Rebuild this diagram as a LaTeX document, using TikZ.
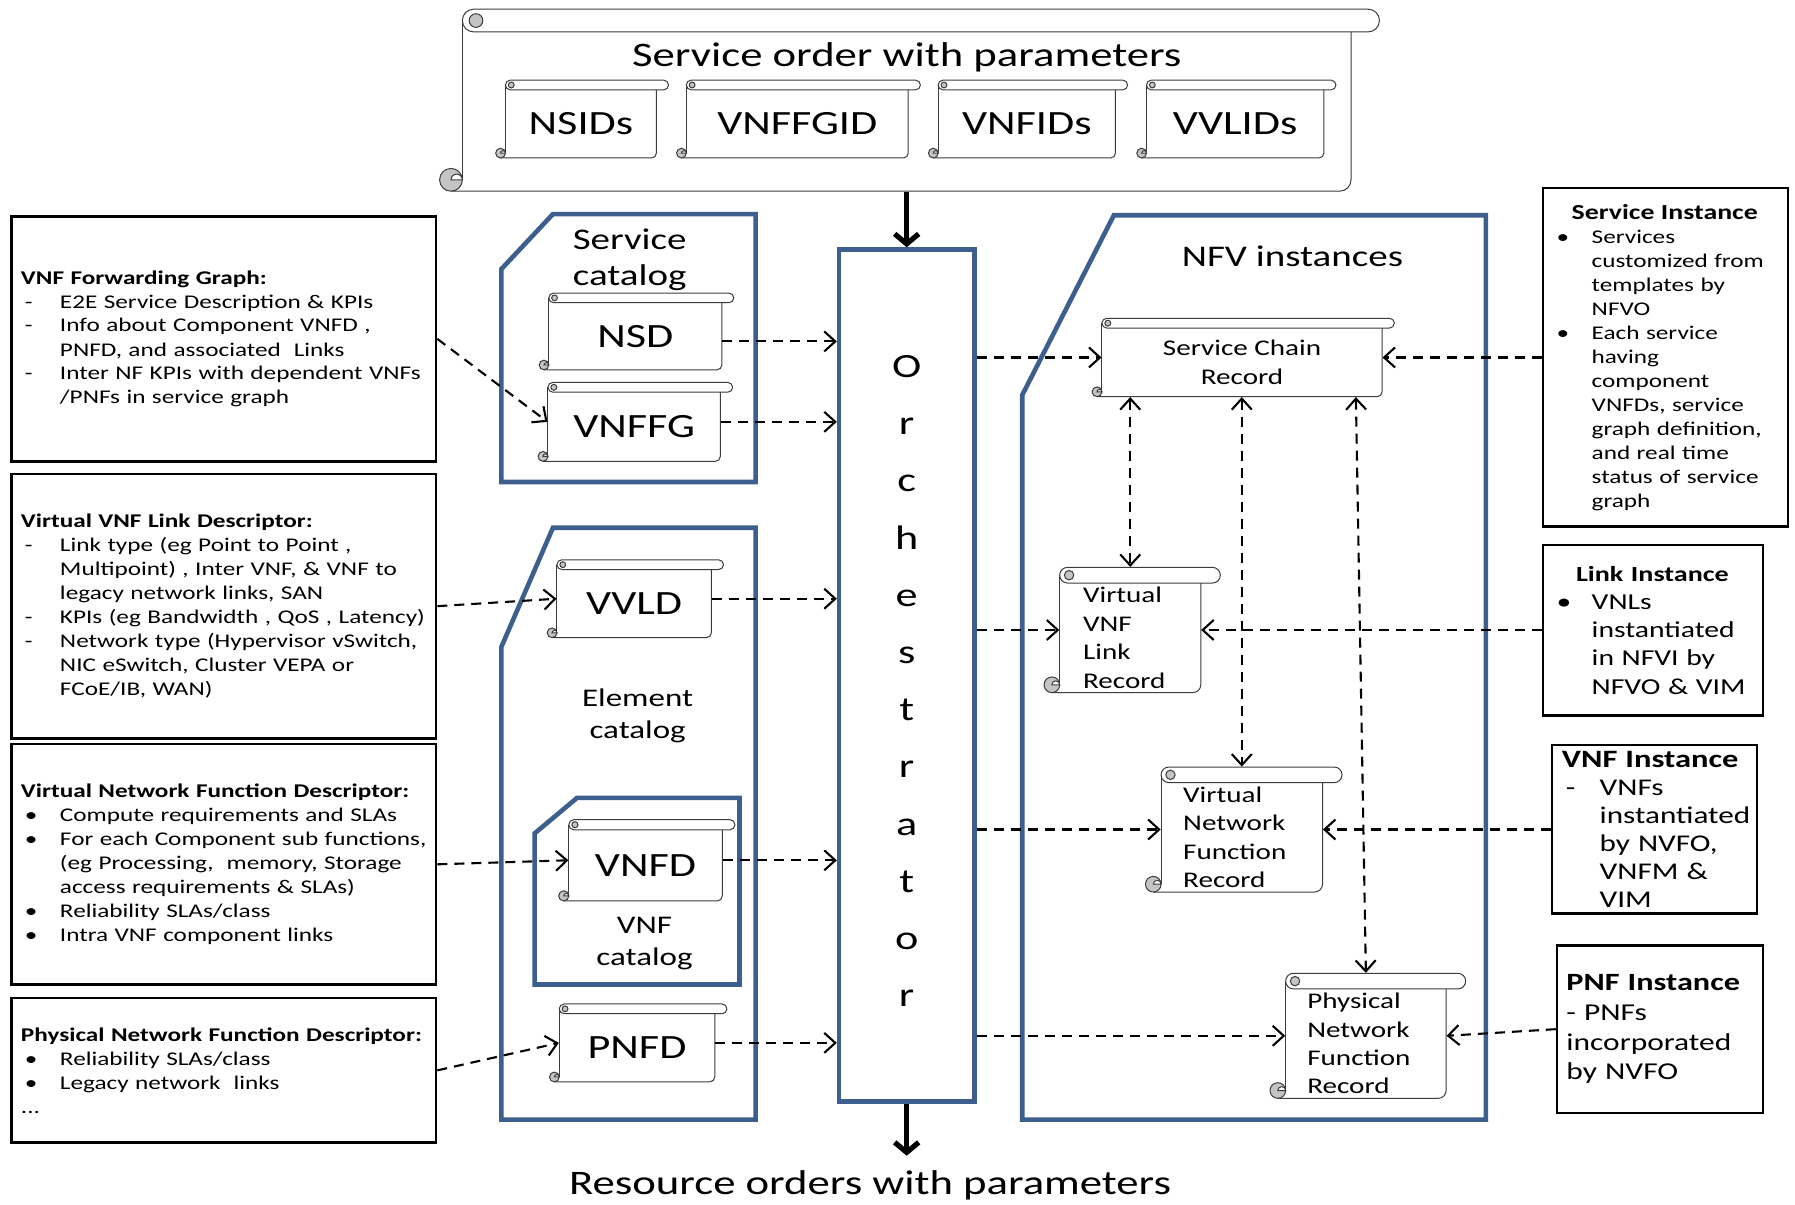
\documentclass[tikz,border=0pt]{standalone}
\usepackage{fontspec}
\setmainfont{Carlito}[FakeStretch=1.3]
\usetikzlibrary{arrows.meta,fit,calc}
\hyphenpenalty=10000
\exhyphenpenalty=10000

\definecolor{catblue}{RGB}{60,95,142}
\definecolor{curlgray}{RGB}{196,196,196}
\definecolor{scrollink}{RGB}{60,60,60}

\newcommand{\fsz}[2]{\fontsize{#1}{#2}\selectfont}
% list lines with a hanging marker
\newcommand{\itemline}[3][19.5pt]{\makebox[#1][l]{\hspace{2pt}#2}#3}
\newcommand{\contline}[2][19.5pt]{\hspace*{#1}#2}

\tikzset{
  scrollline/.style={draw=scrollink, line width=0.5pt},
  bluebox/.style={draw=catblue, line width=2.3pt},
  descbox/.style={draw=black, line width=1.15pt, inner sep=0pt},
  desctext/.style={anchor=west, inner sep=0pt, align=left, text width=215pt, font=\fsz{9.7}{12}},
  boxtext/.style={anchor=west, inner sep=0pt, align=left},
  conn/.style={line width=1.05pt, dash pattern=on 5pt off 3.5pt, -{Straight Barb[length=5.5pt,width=10pt]}},
  biconn/.style={conn, {Straight Barb[length=5.5pt,width=10pt]}-{Straight Barb[length=5.5pt,width=10pt]}},
  bigarrow/.style={line width=2.6pt, -{Straight Barb[length=5pt,width=12pt]}},
  bigtext/.style={font=\fsz{17.2}{20}, inner sep=0pt},
  idtext/.style={font=\fsz{17}{20}, inner sep=0pt},
  rectext/.style={font=\fsz{11.2}{14.2}, align=left, inner sep=0pt},
  cattext/.style={align=center, inner sep=0pt},
}

% scroll: name, left, top, right, bottom, label style, label
\newcommand{\scrollbox}[7]{%
  \pgfmathsetmacro{\sch}{min(#4-#2,#5-#3)/8}%
  \pgfmathsetmacro{\shc}{\sch/2}%
  \pgfmathsetmacro{\sbl}{#2+\sch}%
  \pgfmathsetmacro{\sbr}{#4-1.25*\sch}%
  \pgfmathsetlengthmacro{\srad}{\shc*0.5724pt}%
  \pgfmathsetlengthmacro{\sradh}{\shc*0.5724pt/2}%
  \pgfmathsetlengthmacro{\srads}{\sch*0.5724pt*0.3}%
  \fill[white] (\sbl,#3+\shc) rectangle (\sbr,#5);
  \draw[scrollline] (\sbl,#3+\shc) -- (\sbl,#5-\shc);
  \draw[scrollline, rounded corners=\srad] (#2+\shc,#5) -- (\sbr,#5) -- (\sbr,#3+\sch);
  \filldraw[scrollline, fill=curlgray] (#2+\shc,#5-\shc) circle[radius=\srad];
  \filldraw[scrollline, fill=white] (\sbl,#5-\shc) arc[start angle=0, end angle=180, radius=\sradh] -- cycle;
  \filldraw[scrollline, fill=white, rounded corners=\srad] (\sbl,#3) rectangle (#4,#3+\sch);
  \filldraw[scrollline, fill=curlgray] (\sbl+0.6*\sch,#3+\shc) circle[radius=\srads];
  \node[inner sep=0pt, fit={(\sbl,#3) (\sbr,#5)}] (#1) {};
  \node[#6] (#1-label) at ({(\sbl+\sbr)/2},{(#3+\sch+#5)/2}) {#7};
}

\begin{document}
\begin{tikzpicture}[x=0.5724pt, y=-0.5724pt]
\useasboundingbox (0,0) rectangle (1568,1052);
\fill[white] (0,0) rectangle (1568,1052);

% ---------- descriptor boxes (left) ----------
\node[descbox, fit={(10,189) (381,403)}] (fgbox) {};
\node[desctext] (fgtext) at ([xshift=5.15pt]fgbox.west) {%
\textbf{VNF Forwarding Graph:}\\
\itemline{-}{E2E Service Description \& KPIs}\\
\itemline{-}{Info about Component VNFD ,}\\
\contline{PNFD, and associated\ \ Links}\\
\itemline{-}{Inter NF KPIs with dependent VNFs}\\
\contline{/PNFs in service graph}};

\node[descbox, fit={(10,414) (381,645)}] (vlbox) {};
\node[desctext] (vltext) at ([xshift=5.15pt]vlbox.west) {%
\textbf{Virtual VNF Link Descriptor:}\\
\itemline{-}{Link type (eg Point to Point ,}\\
\contline{Multipoint) , Inter VNF, \& VNF to}\\
\contline{legacy network links, SAN}\\
\itemline{-}{KPIs (eg Bandwidth , QoS , Latency)}\\
\itemline{-}{Network type (Hypervisor vSwitch,}\\
\contline{NIC eSwitch, Cluster VEPA or}\\
\contline{FCoE/IB, WAN)}};

\node[descbox, fit={(10,650) (381,860)}] (vnfdbox) {};
\node[desctext] (vnfdtext) at ([xshift=5.15pt]vnfdbox.west) {%
\textbf{Virtual Network Function Descriptor:}\\
\itemline{\textbullet}{Compute requirements and SLAs}\\
\itemline{\textbullet}{For each Component sub functions,}\\
\contline{(eg Processing,\ \ memory, Storage}\\
\contline{access requirements \& SLAs)}\\
\itemline{\textbullet}{Reliability SLAs/class}\\
\itemline{\textbullet}{Intra VNF component links}};

\node[descbox, fit={(10,872) (381,998)}] (pnfdbox) {};
\node[desctext] (pnfdtext) at ([xshift=5.15pt]pnfdbox.west) {%
\textbf{Physical Network Function Descriptor:}\\
\itemline{\textbullet}{Reliability SLAs/class}\\
\itemline{\textbullet}{Legacy network\ \ links}\\
...};

% ---------- instance boxes (right) ----------
\node[descbox, fit={(1348,164) (1562,460)}] (sibox) {};
\node[boxtext, text width=112pt, font=\fsz{9.7}{12}] (sitext) at ([xshift=5.15pt]sibox.west) {%
\makebox[\linewidth][c]{\fsz{10.7}{12}\bfseries Service Instance}\\
\itemline{\textbullet}{Services}\\
\contline{customized from}\\
\contline{templates by}\\
\contline{NFVO}\\
\itemline{\textbullet}{Each service}\\
\contline{having}\\
\contline{component}\\
\contline{VNFDs, service}\\
\contline{graph definition,}\\
\contline{and real time}\\
\contline{status of service}\\
\contline{graph}};

\node[descbox, fit={(1348,476) (1540,625)}] (libox) {};
\node[boxtext, text width=99.6pt, font=\fsz{11.4}{14.1}] (litext) at ([xshift=5.15pt]libox.west) {%
\makebox[\linewidth][c]{\fsz{10.8}{14.1}\bfseries Link Instance}\\
\itemline{\textbullet}{VNLs}\\
\contline{instantiated}\\
\contline{in NFVI by}\\
\contline{NFVO \& VIM}};

\node[descbox, fit={(1356,651) (1535,798)}] (vibox) {};
\node[boxtext, text width=110pt, font=\fsz{12}{14}] (vitext) at ([xshift=5.15pt]vibox.west) {%
{\fsz{12.5}{14}\bfseries VNF Instance}\\
\itemline[18.9pt]{-}{VNFs}\\
\contline[18.9pt]{instantiated}\\
\contline[18.9pt]{by NVFO,}\\
\contline[18.9pt]{VNFM \&}\\
\contline[18.9pt]{VIM}};

\node[descbox, fit={(1360,826) (1540,972)}] (pibox) {};
\node[boxtext, text width=100pt, font=\fsz{12.1}{14.9}] (pitext) at ([xshift=5.15pt]pibox.west) {%
{\fsz{12.4}{14.9}\bfseries PNF Instance}\\
- PNFs\\
incorporated\\
by NVFO};

% ---------- catalogs ----------
\draw[bluebox] (438,235) -- (483,187) -- (660,187) -- (660,421) -- (438,421) -- cycle;
\draw[bluebox] (438,565) -- (483,461) -- (660,461) -- (660,978) -- (438,978) -- cycle;
\draw[bluebox] (467,728) -- (504,697) -- (646,697) -- (646,860) -- (467,860) -- cycle;
\draw[bluebox] (893,345) -- (973,188) -- (1298,188) -- (1298,978) -- (893,978) -- cycle;

\node[cattext, font=\fsz{15}{17.7}] (sclabel) at (550,227) {Service\\catalog};
\node[cattext, font=\fsz{12.7}{16}] (eclabel) at (557,625) {Element\\catalog};
\node[cattext, font=\fsz{12.7}{16}] (vclabel) at (563,824) {VNF\\catalog};
\node[cattext, font=\fsz{15}{18}] (nfvlabel) at (1129,224) {NFV instances};

% ---------- service order ----------
\scrollbox{sorder}{384}{8}{1205}{167}{bigtext, yshift=27pt}{Service order with parameters}
\scrollbox{nsids}{433}{70}{584}{138}{idtext}{NSIDs}
\scrollbox{vnffgid}{591}{70}{804}{138}{idtext}{VNFFGID}
\scrollbox{vnfids}{811}{70}{985}{138}{idtext}{VNFIDs}
\scrollbox{vvlids}{993}{70}{1167}{138}{idtext}{VVLIDs}

% ---------- descriptors ----------
\scrollbox{nsd}{471}{256}{641}{323}{idtext}{NSD}
\scrollbox{vnffg}{470}{334}{640}{403}{idtext}{VNFFG}
\scrollbox{vvld}{478}{489}{632}{557}{idtext}{VVLD}
\scrollbox{vnfd}{488}{716}{642}{787}{idtext}{VNFD}
\scrollbox{pnfd}{480}{877}{635}{945}{idtext}{PNFD}

% ---------- records ----------
\scrollbox{scr}{954}{278}{1218}{346.5}{rectext, align=center}{Service Chain\\Record}
\scrollbox{vvlr}{912}{495.6}{1066}{605}{rectext, xshift=-3pt}{Virtual\\VNF\\Link\\Record}
\scrollbox{vnfr}{1000.6}{670}{1172.3}{779.2}{rectext, xshift=-3.5pt}{Virtual\\Network\\Function\\Record}
\scrollbox{pnfr}{1109.4}{850.2}{1280.3}{959.4}{rectext, xshift=-3.5pt}{Physical\\Network\\Function\\Record}

% ---------- orchestrator ----------
\node[bluebox, fill=white, inner sep=0pt, fit={(733,218) (851,962)}] (orch) {};
\node[align=center, inner sep=0pt, font=\fsz{17}{28.6}] (orchtext) at (792,595)
  {O\\r\\c\\h\\e\\s\\t\\r\\a\\t\\o\\r};

\node[bigtext, anchor=base] (res) at (760,1043) {Resource orders with parameters};

\draw[bigarrow] (sorder.south -| orch.north) -- (orch.north);
\draw[bigarrow] (orch.south) -- ([yshift=7pt]orch.south |- res.north);

% ---------- descriptors into the orchestrator ----------
\draw[conn] (fgbox.east) -- (vnffg.west);
\draw[conn] (vlbox.east) -- (vvld.west);
\draw[conn] (vnfdbox.east) -- (vnfd.west);
\draw[conn] (pnfdbox.east) -- (pnfd.west);

\draw[conn] ([yshift=-5pt]nsd.east) -- ([yshift=-5pt]nsd.east -| orch.west);
\draw[conn] (vnffg.east) -- (vnffg.east -| orch.west);
\draw[conn] (vvld.east) -- (vvld.east -| orch.west);
\draw[conn] (vnfd.east) -- (vnfd.east -| orch.west);
\draw[conn] (pnfd.east) -- (pnfd.east -| orch.west);

% ---------- orchestrator to records ----------
\draw[conn] (orch.east |- scr.west) -- (scr.west);
\draw[conn] (orch.east |- vvlr.west) -- (vvlr.west);
\draw[conn] (orch.east |- vnfr.west) -- (vnfr.west);
\draw[conn] (orch.east |- pnfr.west) -- (pnfr.west);

% ---------- record links ----------
\draw[biconn] (scr.south -| vvlr.north) -- (vvlr.north);
\draw[biconn] (scr.south -| vnfr.north) -- (vnfr.north);
\draw[biconn] ([xshift=-5pt]scr.south -| pnfr.north) -- (pnfr.north);

% ---------- instances into records ----------
\draw[conn] (scr.east -| sibox.west) -- (scr.east);
\draw[conn] (vvlr.east -| libox.west) -- (vvlr.east);
\draw[conn] (vnfr.east -| vibox.west) -- (vnfr.east);
\draw[conn] (pibox.west) -- (pnfr.east);
\end{tikzpicture}
\end{document}
